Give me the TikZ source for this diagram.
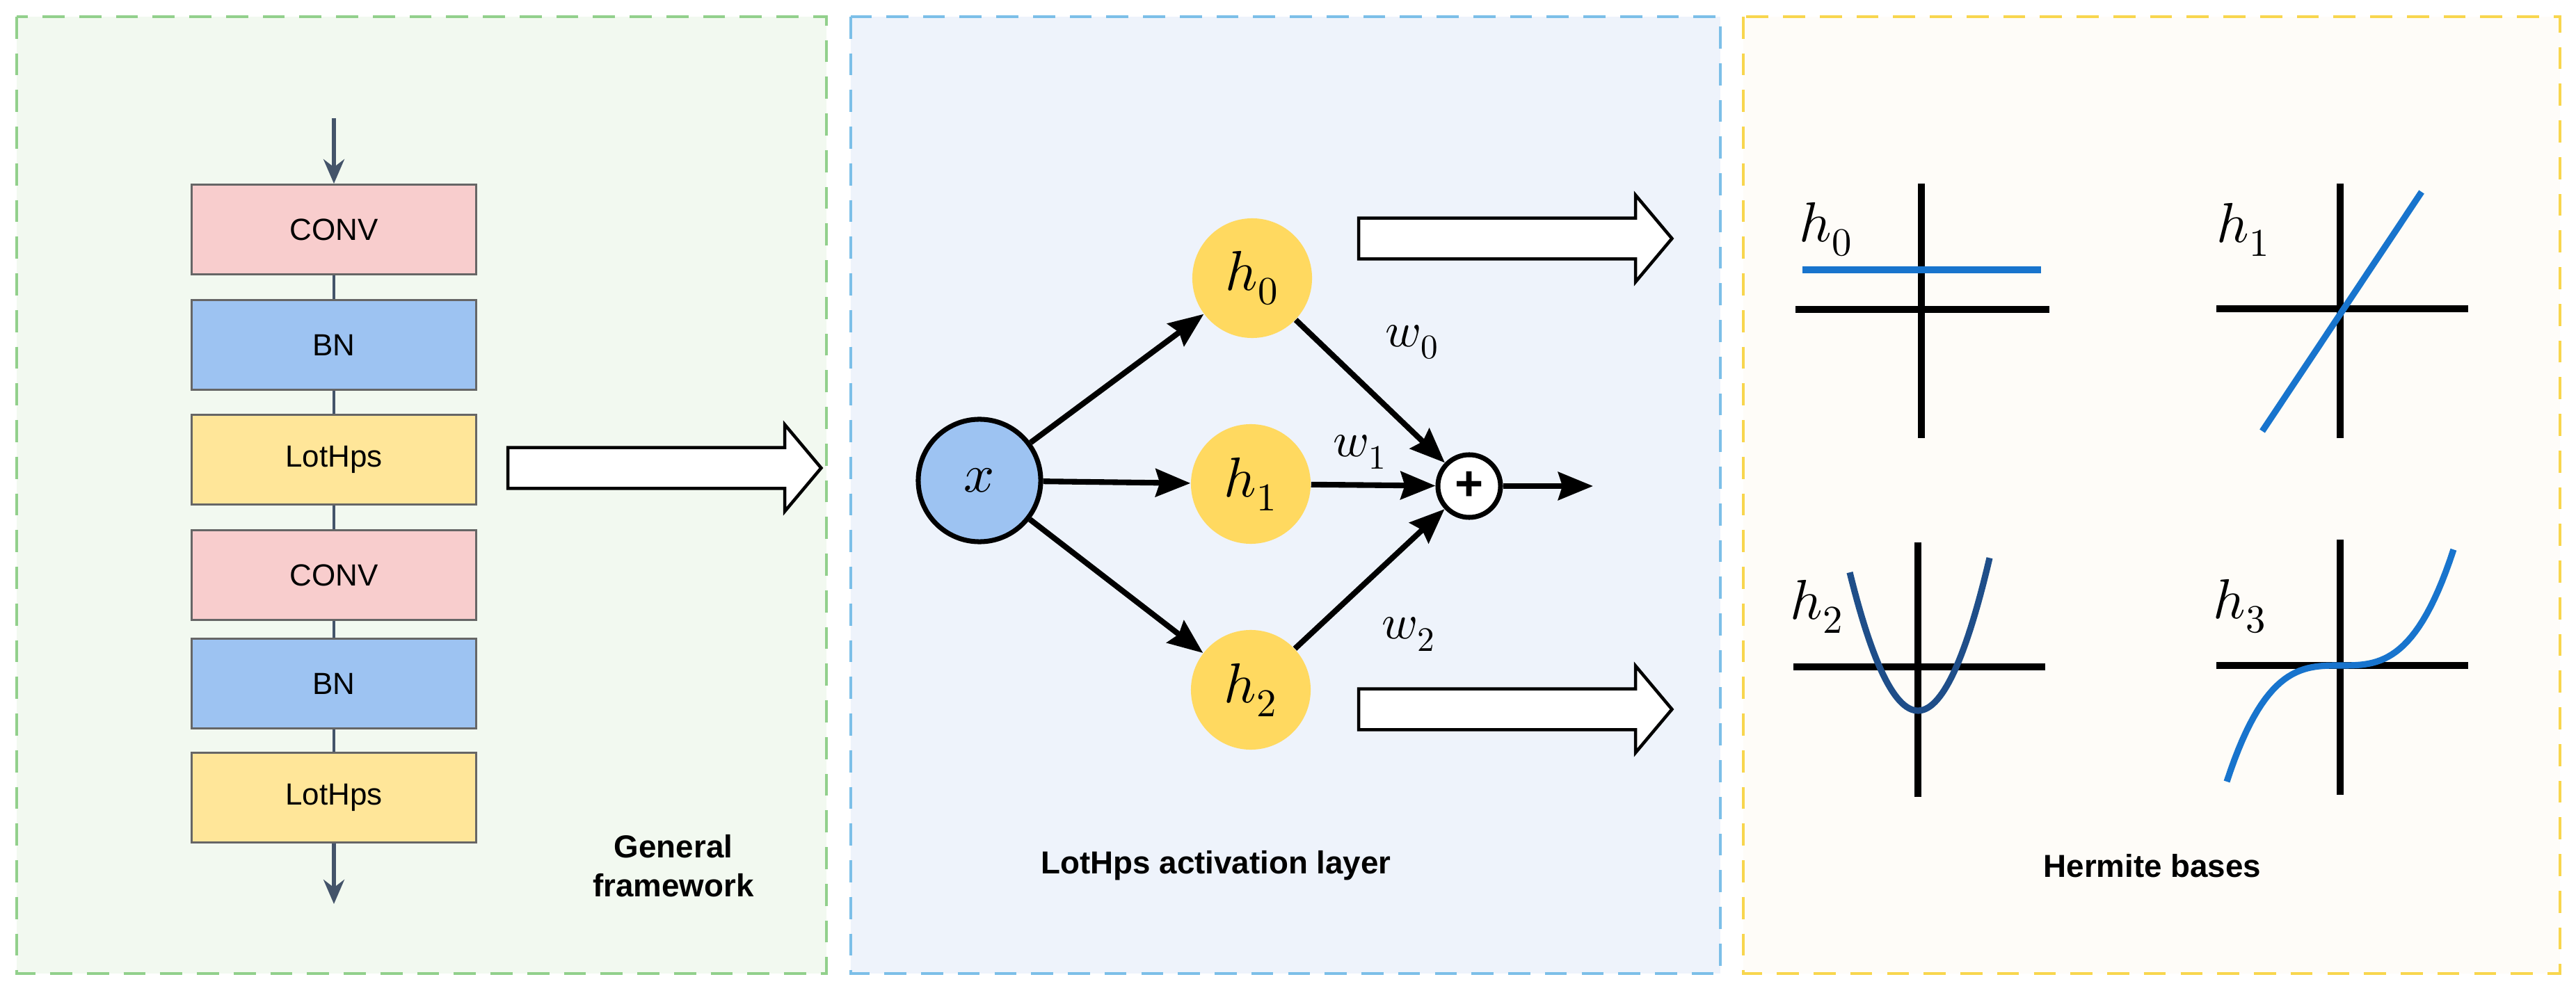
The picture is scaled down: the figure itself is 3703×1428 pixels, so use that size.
\documentclass[tikz,border=0pt]{standalone}
\usepackage{fontspec}
\setmainfont{Liberation Sans}
\usepackage{unicode-math}
\setmathfont{Latin Modern Math}
\usetikzlibrary{arrows.meta}
\usetikzlibrary{shapes.arrows}

\definecolor{greenbg}{HTML}{F2F9F0}
\definecolor{greenline}{HTML}{92D08C}
\definecolor{bluebg}{HTML}{EEF3FB}
\definecolor{blueline}{HTML}{7CBFE8}
\definecolor{yellowbg}{HTML}{FEFCF8}
\definecolor{yellowline}{HTML}{F8D64E}
\definecolor{convcol}{HTML}{F8CDCD}
\definecolor{bncol}{HTML}{9DC3F2}
\definecolor{lotcol}{HTML}{FFE699}
\definecolor{hcol}{HTML}{FFD960}
\definecolor{slate}{HTML}{44546A}
\definecolor{curve}{HTML}{1874CD}
\definecolor{curvedark}{HTML}{1F4E89}

\tikzset{
    panel/.style={dashed,line width=1.2pt,dash pattern=on 9pt off 6pt},
    layer/.style={draw=gray!80!black,line width=0.8pt,minimum width=4.09cm,minimum height=1.29cm,font=\fontsize{12.5}{15}\selectfont},
    unit/.style={circle,fill=hcol,minimum size=1.72cm,inner sep=0pt,font=\fontsize{23}{26}\selectfont},
    flow/.style={line width=2.3pt,-{Stealth[length=5mm,width=4mm,inset=0.6mm]}},
    fat/.style={single arrow,draw=black,fill=white,line width=1.3pt,minimum height=4.5cm,minimum width=1.2cm,inner sep=0.27cm,single arrow head extend=0.33cm,single arrow tip angle=100},
    axis/.style={line width=2.6pt},
    basis/.style={line width=2.6pt,curve},
    caption/.style={font=\fontsize{13}{16}\selectfont\bfseries,align=center}
}

\begin{document}
\begin{tikzpicture}[x=0.01cm,y=-0.01cm]
    \useasboundingbox (0,0) rectangle (3703,1428);

    % panels
    \filldraw[panel,fill=greenbg,draw=greenline] (24,24) rectangle (1188,1400);
    \filldraw[panel,fill=bluebg,draw=blueline] (1223,24) rectangle (2473,1400);
    \filldraw[panel,fill=yellowbg,draw=yellowline] (2506,24) rectangle (3680,1400);

    % general framework
    \foreach \name/\txt/\col/\y in {conva/CONV/convcol/330,bna/BN/bncol/496,lota/LotHps/lotcol/661,convb/CONV/convcol/827,bnb/BN/bncol/983,lotb/LotHps/lotcol/1147}
        \node[layer,fill=\col] (\name) at (480,\y) {\txt};
    \coordinate (in) at (480,170);
    \coordinate (out) at (480,1300);
    \draw[slate,line width=1.5pt,-{Stealth[length=3.5mm,width=3mm]}] (in) -- (conva);
    \draw[slate,line width=1.5pt,-{Stealth[length=3.5mm,width=3mm]}] (lotb) -- (out);
    \draw[slate,line width=1pt] (conva) -- (bna) (bna) -- (lota) (lota) -- (convb) (convb) -- (bnb) (bnb) -- (lotb);
    \node[fat] (toact) at (943,673) {};
    \node[caption] (gen) at (968,1245) {General\\framework};

    % activation layer
    \node[circle,draw=black,line width=2pt,fill=bncol,minimum size=1.76cm,inner sep=0pt,font=\fontsize{22}{26}\selectfont] (x) at (1408,691) {$x$};
    \node[unit] (h0) at (1800,400) {$h_0$};
    \node[unit] (h1) at (1798,696) {$h_1$};
    \node[unit] (h2) at (1798,992) {$h_2$};
    \node[circle,draw=black,line width=2pt,fill=white,minimum size=0.9cm,inner sep=0pt,font=\fontsize{20}{20}\selectfont\bfseries] (sum) at (2112,699) {+};
    \coordinate (res) at (2290,699);
    \draw[flow] (x) -- (h0);
    \draw[flow] (x) -- (h1);
    \draw[flow] (x) -- (h2);
    \draw[flow] (h0) -- (sum);
    \draw[flow] (h1) -- (sum);
    \draw[flow] (h2) -- (sum);
    \draw[flow] (sum) -- (res);
    \node[font=\fontsize{20}{24}\selectfont] (w0) at (2030,492) {$w_0$};
    \node[font=\fontsize{20}{24}\selectfont] (w1) at (1955,650) {$w_1$};
    \node[font=\fontsize{20}{24}\selectfont] (w2) at (2025,912) {$w_2$};
    \node[fat] (tobasea) at (2166,343) {};
    \node[fat] (tobaseb) at (2166,1020) {};
    \node[caption] (act) at (1748,1245) {LotHps activation layer};

    % hermite bases
    \draw[axis] (2762,264) -- (2762,630) (2581,445) -- (2946,445);
    \draw[basis] (2591,388) -- (2934,388);
    \node[font=\fontsize{23}{26}\selectfont] (b0) at (2625,330) {$h_0$};

    \draw[axis] (3364,264) -- (3364,630) (3186,444) -- (3548,444);
    \draw[basis] (3252,620) -- (3481,276);
    \node[font=\fontsize{23}{26}\selectfont] (b1) at (3225,330) {$h_1$};

    \draw[axis] (2757,780) -- (2757,1146) (2578,959) -- (2940,959);
    \draw[basis,curvedark,domain=-98:103,samples=60] plot ({2757+\x},{1022-0.0207*\x*\x});
    \node[font=\fontsize{23}{26}\selectfont] (b2) at (2612,872) {$h_2$};

    \draw[axis] (3364,776) -- (3364,1143) (3186,957) -- (3548,957);
    \draw[basis,domain=-1:1,samples=60] plot ({3364+163*\x},{957-167*\x*\x*\x});
    \node[font=\fontsize{23}{26}\selectfont] (b3) at (3220,872) {$h_3$};

    \node[caption] (herm) at (3094,1245) {Hermite bases};
\end{tikzpicture}
\end{document}
